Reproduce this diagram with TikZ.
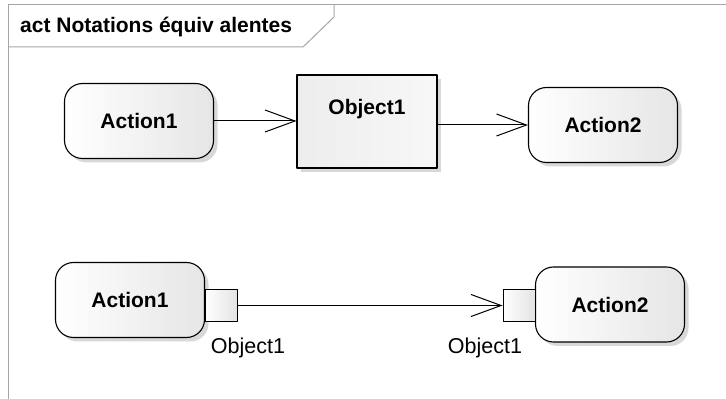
\documentclass[tikz,border=0pt]{standalone}
\usepackage{fontspec}
\setmainfont{Liberation Sans}
\usetikzlibrary{arrows.meta,shadows}
\begin{document}
\begin{tikzpicture}[>={Straight Barb[length=30bp,width=22bp]},line join=bevel,
  action/.style={draw=black,line width=1.1bp,rounded corners=18bp,left color=white,right color=gray!20,
    drop shadow={shadow xshift=4bp,shadow yshift=-4bp,fill=black!30},
    font=\fontsize{21bp}{25bp}\selectfont\bfseries,minimum width=149bp,minimum height=75bp},
  objbox/.style={draw=black,line width=1.1bp,rectangle,left color=gray!14,right color=gray!6,
    drop shadow={shadow xshift=4bp,shadow yshift=-4bp,fill=black!30},
    font=\fontsize{21bp}{25bp}\selectfont\bfseries,minimum width=140bp,minimum height=93bp,
    text height=15bp,text depth=28bp},
  pin/.style={draw=black,line width=1bp,rectangle,left color=white,right color=gray!22,
    minimum size=32bp,inner sep=0pt},
  pinlbl/.style={font=\fontsize{21.5bp}{25bp}\selectfont,inner sep=0pt},
  flow/.style={->,line width=1bp},
  frame/.style={draw=gray!70,line width=1bp}]
\useasboundingbox (0bp,0bp) rectangle (726bp,399bp);
%%
\draw [frame] (8bp,0bp) -- (8bp,394bp) -- (726bp,394bp);
\draw [frame] (8bp,352bp) -- (303bp,352bp) -- (334bp,382bp) -- (334bp,394bp);
\node (title) at (20bp,372bp) [anchor=west,inner sep=0pt,font=\fontsize{21bp}{25bp}\selectfont\bfseries] {act Notations équiv alentes};
%
\node (action1) at (139bp,278bp) [action] {Action1};
  \node (object1) at (367bp,277.5bp) [objbox] {Object1};
  \node (action2) at (603bp,274bp) [action] {Action2};
  \draw [flow] (action1.east) -- (action1.east -| object1.west);
  \draw [flow] (action2.west -| object1.east) -- (action2.west);
%
\node (action1_b) at (130bp,99bp) [action] {Action1};
  \node (pin_out_b) at (221.5bp,93.5bp) [pin] {};
  \node (action2_b) at (610bp,94.5bp) [action] {Action2};
  \node (pin_in_b) at (519bp,93.5bp) [pin] {};
  \node (lbl_out_b) at (248bp,51bp) [pinlbl] {Object1};
  \node (lbl_in_b) at (485bp,51bp) [pinlbl] {Object1};
  \draw [flow] (pin_out_b.east) -- (pin_in_b.west);
%
\end{tikzpicture}
\end{document}
